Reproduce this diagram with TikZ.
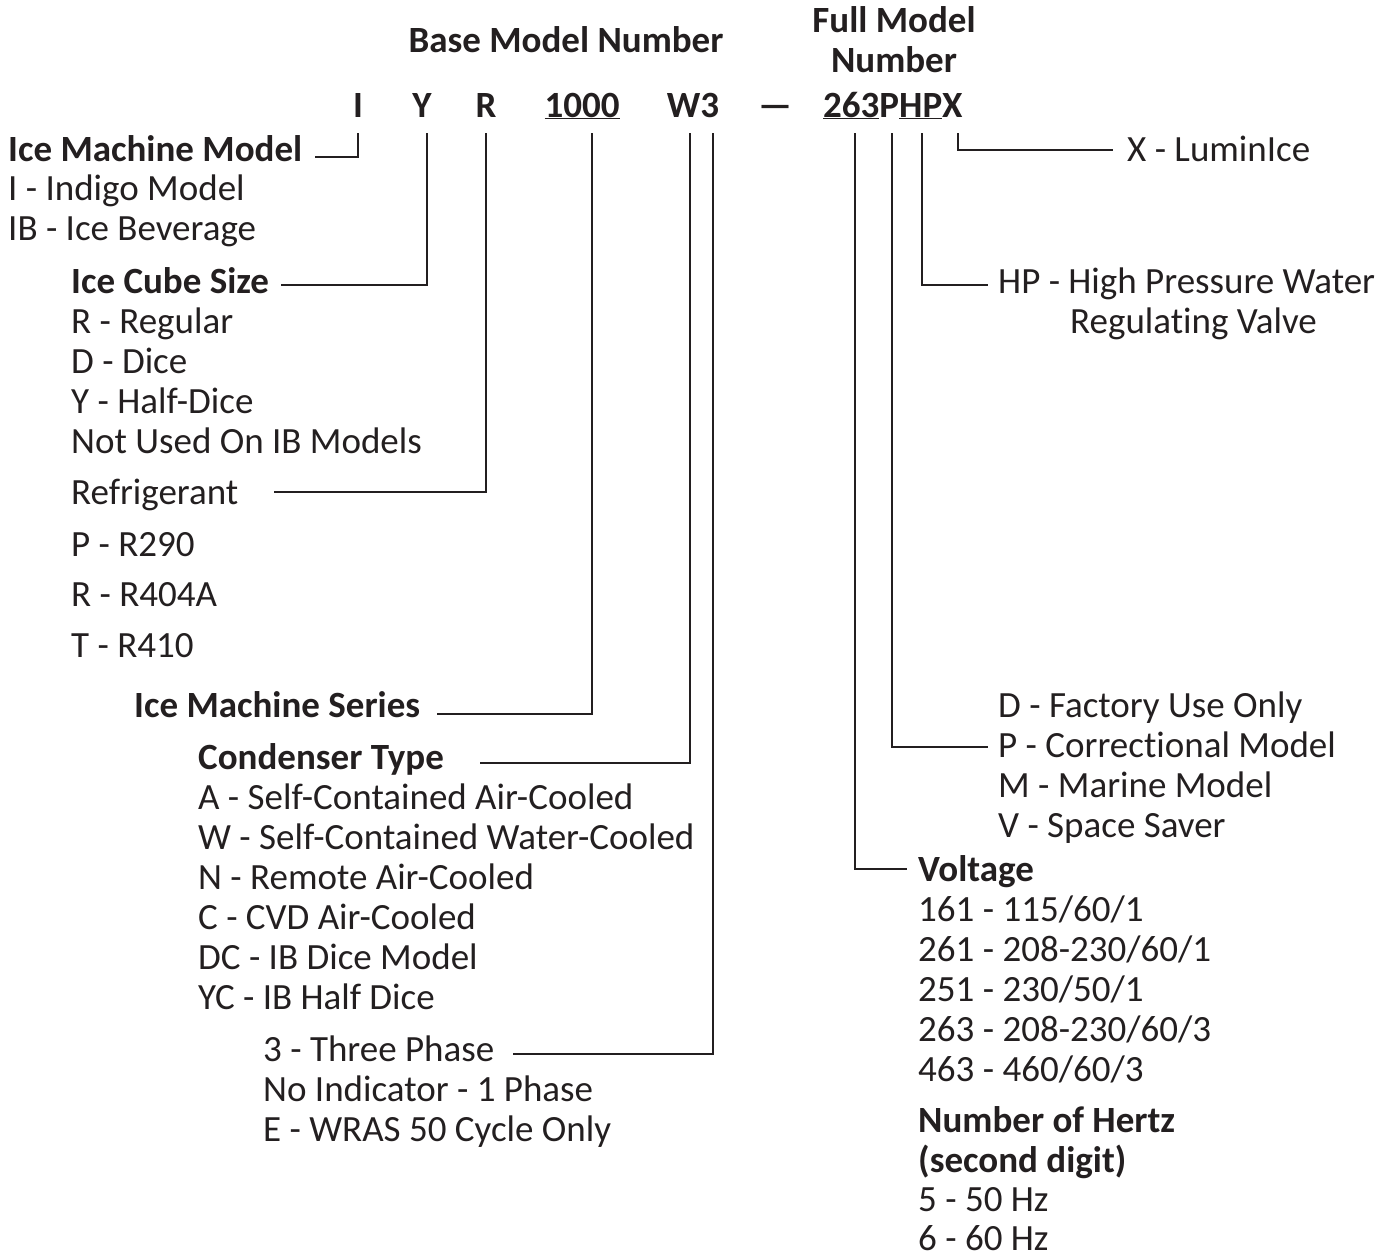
\documentclass[tikz,border=0pt]{standalone}
\usepackage{fontspec}
\setmainfont{Carlito}[Ligatures={NoCommon}]
\definecolor{ink}{HTML}{231F20}
\begin{document}
\begin{tikzpicture}[x=1pt,y=-1pt,
  every node/.style={inner sep=0pt, text=ink, font=\fontsize{37}{40}\selectfont},
  t/.style={anchor=base west},
  b/.style={anchor=base west, font=\fontsize{37}{40}\selectfont\bfseries},
  hd/.style={anchor=base, font=\fontsize{37}{40}\selectfont\bfseries},
  conn/.style={draw=ink, line width=1.3pt}]
\useasboundingbox (0,0) rectangle (1392,1255);

% header
\node[hd] (hbase) at (566,53) {Base Model Number};
\node[hd] (hfull1) at (894,33) {Full Model};
\node[hd] (hfull2) at (894,73) {Number};
\node[hd] (cI) at (358,117) {I};
\node[hd] (cY) at (422,117) {Y};
\node[hd] (cR) at (486,117) {R};
\node[hd] (c1000) at (582,117) {\underline{1000}};
\node[hd] (cW3) at (693,117) {W3};
\node[hd] (cdash) at (775,117) {---};
\node[b] (cfull) at (823,117) {\underline{263}P\underline{HP}X};

% left column
\node[b] (imm) at (8,161) {Ice Machine Model};
\node[t] (imm1) at (8,200) {I - Indigo Model};
\node[t] (imm2) at (8,240) {IB - Ice Beverage};
\node[b] (ics) at (71,293) {Ice Cube Size};
\node[t] (ics1) at (71,333) {R - Regular};
\node[t] (ics2) at (71,373) {D - Dice};
\node[t] (ics3) at (71,413) {Y - Half-Dice};
\node[t] (ics4) at (71,453) {Not Used On IB Models};
\node[t] (ref) at (71,504) {Refrigerant};
\node[t] (ref1) at (71,556) {P - R290};
\node[t] (ref2) at (71,606) {R - R404A};
\node[t] (ref3) at (71,657) {T - R410};
\node[b] (ims) at (134,717) {Ice Machine Series};
\node[b] (cty) at (198,769) {Condenser Type};
\node[t] (cty1) at (198,809) {A - Self-Contained Air-Cooled};
\node[t] (cty2) at (198,849) {W - Self-Contained Water-Cooled};
\node[t] (cty3) at (198,889) {N - Remote Air-Cooled};
\node[t] (cty4) at (198,929) {C - CVD Air-Cooled};
\node[t] (cty5) at (198,969) {DC - IB Dice Model};
\node[t] (cty6) at (198,1009) {YC - IB Half Dice};
\node[t] (ph1) at (263,1061) {3 - Three Phase};
\node[t] (ph2) at (263,1101) {No Indicator - 1 Phase};
\node[t] (ph3) at (263,1141) {E - WRAS 50 Cycle Only};

% right column
\node[t] (lum) at (1127,161) {X - LuminIce};
\node[t] (hp1) at (998,293) {HP - High Pressure Water};
\node[t] (hp2) at (1070,333) {Regulating Valve};
\node[t] (md1) at (998,717) {D - Factory Use Only};
\node[t] (md2) at (998,757) {P - Correctional Model};
\node[t] (md3) at (998,797) {M - Marine Model};
\node[t] (md4) at (998,837) {V - Space Saver};
\node[b] (vol) at (918,881) {Voltage};
\node[t] (vol1) at (918,921) {161 - 115/60/1};
\node[t] (vol2) at (918,961) {261 - 208-230/60/1};
\node[t] (vol3) at (918,1001) {251 - 230/50/1};
\node[t] (vol4) at (918,1041) {263 - 208-230/60/3};
\node[t] (vol5) at (918,1081) {463 - 460/60/3};
\node[b] (hz) at (918,1132) {Number of Hertz};
\node[b] (hz0) at (918,1172) {(second digit)};
\node[t] (hz1) at (918,1211) {5 - 50 Hz};
\node[t] (hz2) at (918,1250) {6 - 60 Hz};

% connector ends
\coordinate (tI) at (358,133);   \coordinate (eI) at (315,157);
\coordinate (tY) at (427,133);   \coordinate (eY) at (281,285);
\coordinate (tR) at (486,133);   \coordinate (eR) at (274,492);
\coordinate (tS) at (592,133);   \coordinate (eS) at (437,714);
\coordinate (tW) at (690,133);   \coordinate (eW) at (480,763);
\coordinate (t3) at (713,133);   \coordinate (e3) at (513,1054);
\coordinate (tV) at (855,133);   \coordinate (eV) at (907,869);
\coordinate (tP) at (892,133);   \coordinate (eP) at (988,747);
\coordinate (tH) at (922,133);   \coordinate (eH) at (988,285);
\coordinate (tX) at (958,133);   \coordinate (eX) at (1113,150);

\draw[conn] (tI) |- (eI);
\draw[conn] (tY) |- (eY);
\draw[conn] (tR) |- (eR);
\draw[conn] (tS) |- (eS);
\draw[conn] (tW) |- (eW);
\draw[conn] (t3) |- (e3);
\draw[conn] (tV) |- (eV);
\draw[conn] (tP) |- (eP);
\draw[conn] (tH) |- (eH);
\draw[conn] (tX) |- (eX);
\end{tikzpicture}
\end{document}
